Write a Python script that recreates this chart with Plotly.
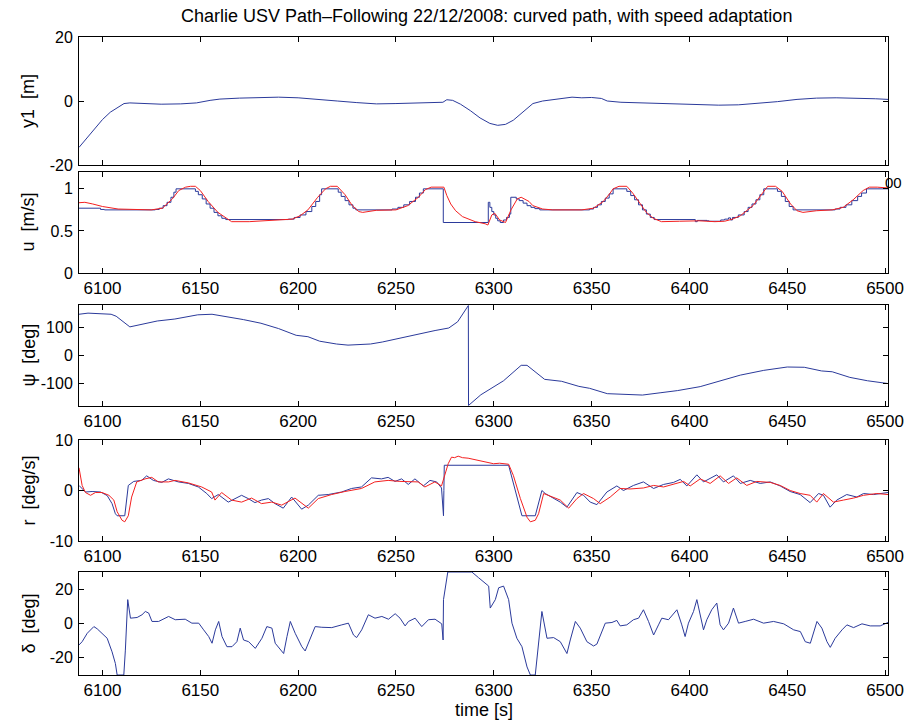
import plotly.graph_objects as go

# ---------------- data ----------------
y1_t = [6088, 6092, 6096, 6100, 6104, 6108, 6111, 6114, 6120, 6130, 6140, 6148, 6155, 6160, 6170,
        6180, 6190, 6200, 6210, 6220, 6230, 6240, 6250, 6260, 6270, 6274, 6276, 6279, 6283, 6288,
        6293, 6298, 6302, 6306, 6310, 6315, 6320, 6325, 6330, 6335, 6340, 6345, 6350, 6355, 6358,
        6365, 6375, 6385, 6395, 6405, 6415, 6425, 6435, 6445, 6455, 6465, 6475, 6485, 6495, 6501.5]
y1_v = [-14.5, -11.5, -8.5, -5.8, -3.5, -1.8, -0.8, -0.6, -0.8, -1.0, -0.9, -0.6, 0.2, 0.6, 0.9,
        1.1, 1.2, 1.0, 0.6, 0.0, -0.5, -0.9, -0.8, -0.6, -0.5, -0.4, 0.4, 0.2, -1.0, -3.0,
        -5.3, -7.0, -7.6, -7.3, -6.0, -3.5, -0.8, 0.0, 0.4, 0.9, 1.2, 1.0, 1.1, 0.8, 0.0,
        -0.4, -0.6, -0.8, -0.9, -1.1, -1.3, -1.2, -0.8, -0.2, 0.5, 0.9, 1.0, 0.9, 0.7, 0.5]

# desired speed (stepped reference)
ud_t = [6088, 6099, 6101, 6127, 6129, 6131, 6133, 6135, 6136.5, 6137.6, 6147.5, 6149, 6151, 6153,
        6155, 6157, 6159, 6161, 6163, 6195, 6198, 6201, 6204, 6207, 6209, 6211, 6212, 6220.5,
        6222, 6224, 6226, 6228, 6229.5, 6248, 6251, 6254, 6257, 6260, 6262, 6264, 6274.2,
        6297.2, 6298, 6299, 6300, 6301, 6302, 6303.3, 6305, 6306.5, 6308, 6308.7, 6311.5, 6313,
        6315, 6317, 6319, 6321, 6323.5, 6349, 6351, 6353, 6355, 6357, 6359, 6361, 6368, 6370,
        6372, 6374, 6376, 6378, 6380, 6382, 6403, 6404, 6409, 6410, 6416, 6418, 6420, 6421,
        6422, 6425, 6428, 6430, 6432, 6434, 6436, 6438, 6445, 6447, 6449, 6451, 6453, 6474.5,
        6477, 6480, 6483, 6486, 6488, 6490.5, 6501.5]
ud_v = [0.77, 0.755, 0.75, 0.755, 0.77, 0.80, 0.84, 0.90, 0.96, 1.0, 0.97, 0.93, 0.88, 0.82,
        0.77, 0.72, 0.68, 0.65, 0.635, 0.64, 0.66, 0.69, 0.73, 0.79, 0.85, 0.93, 1.0, 0.96,
        0.91, 0.86, 0.81, 0.77, 0.75, 0.76, 0.78, 0.81, 0.85, 0.90, 0.95, 1.0, 0.6,
        0.84, 0.78, 0.73, 0.69, 0.65, 0.62, 0.60, 0.63, 0.66, 0.70, 0.9, 0.88, 0.86,
        0.83, 0.80, 0.78, 0.765, 0.75, 0.76, 0.78, 0.81, 0.85, 0.89, 0.94, 1.0, 0.97, 0.92,
        0.87, 0.81, 0.75, 0.70, 0.66, 0.635, 0.61, 0.625, 0.62, 0.615, 0.63, 0.64, 0.655, 0.63,
        0.66, 0.69, 0.73, 0.78, 0.82, 0.87, 0.93, 1.0, 0.97, 0.91, 0.85, 0.79, 0.75, 0.76,
        0.78, 0.81, 0.86, 0.91, 0.95, 1.0, 1.0]

# measured speed
u_t = [6088, 6091, 6095, 6100, 6108, 6125, 6130.6, 6133, 6135.7, 6139, 6142.5, 6145, 6147.5,
       6150, 6154, 6159, 6164, 6166, 6175, 6190, 6197, 6201, 6205, 6210, 6214, 6216.5, 6220,
       6224, 6227.7, 6231, 6233, 6240, 6250, 6256, 6261.5, 6265, 6268, 6274.5, 6276, 6278,
       6280.5, 6284, 6290.5, 6295.6, 6297, 6299, 6300.5, 6303, 6306, 6308.8, 6312, 6314, 6318,
       6320, 6325, 6330, 6345, 6351, 6356, 6359.5, 6361, 6364, 6368, 6371, 6375, 6378, 6381.5,
       6385.7, 6395, 6405, 6413, 6418, 6422, 6426, 6432.5, 6437.6, 6440, 6444, 6447.4,
       6451.7, 6455, 6458, 6465, 6473, 6478.6, 6483.7, 6488.8, 6492, 6496, 6501.5]
u_v = [0.835, 0.84, 0.82, 0.79, 0.76, 0.75, 0.77, 0.82, 0.88, 0.98, 1.02, 1.03, 1.03,
       0.98, 0.85, 0.72, 0.64, 0.61, 0.61, 0.625, 0.64, 0.68, 0.75, 0.9, 1.0, 1.03, 1.03,
       0.93, 0.8, 0.73, 0.72, 0.745, 0.75, 0.80, 0.90, 0.99, 1.02, 1.02, 0.92, 0.82,
       0.74, 0.67, 0.61, 0.585, 0.57, 0.69, 0.71, 0.63, 0.60, 0.75, 0.88, 0.90, 0.85,
       0.80, 0.76, 0.75, 0.75, 0.77, 0.85, 0.95, 1.0, 1.03, 1.03, 0.95, 0.82, 0.72, 0.65,
       0.61, 0.615, 0.62, 0.61, 0.615, 0.64, 0.68, 0.80, 0.95, 1.03, 1.03, 0.97,
       0.82, 0.74, 0.72, 0.74, 0.75, 0.78, 0.87, 0.98, 1.02, 1.02, 1.01]

psi_t = [6088, 6092.6, 6104.4, 6107, 6114, 6119, 6128, 6137, 6148.7, 6156, 6163.5, 6172, 6181,
         6190, 6199, 6205, 6211, 6219.6, 6225.5, 6231, 6237, 6243, 6252, 6261, 6270, 6277,
         6281.5, 6287, 6287.1, 6293.4, 6305, 6314, 6317, 6326, 6334.7, 6343.5, 6349, 6358,
         6370, 6376, 6385, 6394, 6405.5, 6414, 6426, 6438, 6450, 6458.7, 6467.5, 6473, 6482,
         6491, 6501.5]
psi_v = [147, 151, 147, 140, 102, 109, 123, 130, 145, 147, 139, 128, 115,
         96, 72, 67, 51, 41, 37, 39, 41, 48, 62, 77, 89, 98,
         120, 178, -178, -140, -90, -35, -35, -85, -92, -110, -117, -136,
         -141, -141, -133, -125, -111, -95, -70, -53, -41, -42, -55, -58, -78,
         -90, -100]

# desired yaw rate
rd_t = [6088, 6091.3, 6094.7, 6099, 6102.4, 6104.9, 6106.6, 6107.5, 6111.4, 6113.2, 6116, 6120,
        6122.6, 6126, 6130.3, 6133.7, 6138.8, 6143.9, 6149, 6153.3, 6155.8, 6159.2, 6164.3,
        6169.4, 6171.1, 6174.5, 6177.9, 6181.3, 6184.8, 6188.2, 6192.4, 6196.7, 6201.8, 6205.2,
        6210.3, 6215.4, 6222.2, 6227.3, 6232.4, 6237.5, 6242.6, 6246, 6249.5, 6252.9, 6256.3,
        6259.7, 6264, 6267.4, 6270.8, 6273.3, 6274.3, 6274.5, 6274.7, 6307.6, 6314.4, 6321.2,
        6324.6, 6326.3, 6330.6, 6334, 6337.4, 6342.5, 6345.9, 6349.3, 6352.7, 6357.8, 6362.9,
        6366.3, 6371.4, 6376.5, 6381.7, 6386.8, 6391.9, 6395.3, 6398.7, 6403.8, 6407.2, 6414,
        6417.4, 6422.5, 6426, 6431.1, 6436.2, 6441.3, 6446.4, 6451.5, 6456.6, 6461.7, 6466,
        6468.5, 6471.9, 6475.3, 6480.4, 6485.6, 6489, 6494.1, 6501.5]
rd_v = [1.0, -0.3, -0.2, -0.3, -1.0, -2.6, -4.6, -5.0, -5.0, 1.0, 1.8, 2.0,
        2.9, 2.0, 1.6, 2.3, 1.7, 1.4, 0.7, -0.6, -1.6, -0.8, -2.3,
        -1.3, -0.95, -1.6, -2.4, -1.9, -1.6, -2.6, -3.5, -1.3, -3.7, -2.9,
        -0.95, -0.8, -0.3, 0.4, 0.7, 2.5, 2.3, 2.6, 1.8, 2.3, 1.2,
        2.3, 0.9, 2.0, 1.7, 0.5, -5.0, 0.0, 5.0, 5.0, -5.0, -5.0,
        0.0, -0.6, -1.5, -2.3, -3.3, -0.4, -0.95, -2.3, -2.8, -0.3, 0.9,
        0.0, 1.0, 1.7, 0.4, 1.2, 1.6, 2.2, 0.9, 3.1, 1.7, 3.1,
        1.7, 2.9, 1.4, 2.0, 1.4, 1.7, 0.9, -0.2, -0.8, -2.4, -0.6,
        -0.95, -3.3, -1.9, -0.8, -1.3, -0.6, -0.8, -0.4]

# measured yaw rate
r_t = [6088, 6089.6, 6091.3, 6093.9, 6096.4, 6099.8, 6103.3, 6105.8, 6107.5, 6110, 6111.4,
       6113.2, 6114.9, 6117.5, 6121.8, 6125.2, 6128.5, 6133.7, 6137.1, 6143.9, 6150.7, 6155.8,
       6157.5, 6160.9, 6166, 6171.1, 6176.2, 6181.3, 6186.5, 6191.6, 6198.4, 6205.2, 6210.3,
       6217.1, 6223.9, 6232.4, 6239.2, 6246, 6252, 6256.3, 6261.4, 6264.8, 6269.9, 6273.3,
       6275, 6276.7, 6278.4, 6280, 6281.8, 6284, 6286.9, 6289, 6292, 6295, 6299.9, 6303, 6307.6,
       6310, 6313.6, 6317, 6318.7, 6321.2, 6322.9, 6325.5, 6328.9, 6334, 6338.3, 6342.5,
       6345.9, 6351, 6354.4, 6359.5, 6364.6, 6369.7, 6376.5, 6381.7, 6386.8, 6391.9, 6397,
       6400.4, 6405.5, 6410.6, 6415.7, 6420, 6424.2, 6429.3, 6434.4, 6441.3, 6446.4, 6451.5,
       6456.6, 6461.7, 6465.1, 6468.5, 6473.6, 6478.7, 6483.9, 6489, 6495.8, 6501.5]
r_v = [4.5, 1.0, -0.4, -0.95, -0.4, -0.4, -0.95, -1.9, -4.2, -5.9, -6.2,
       -5.0, -1.3, 1.7, 2.3, 2.6, 1.7, 1.7, 2.0, 1.5, 0.7, -0.3,
       -1.9, -0.4, -1.9, -2.3, -1.5, -2.6, -2.3, -2.9, -1.5, -3.5, -1.6,
       -0.8, -0.2, 0.4, 1.7, 2.0, 1.8, 1.7, 1.7, 0.7, 1.7, 0.9,
       3.0, 5.3, 6.6, 6.5, 6.8, 6.5, 6.4, 6.2, 6.0, 5.7, 5.3, 5.4, 5.2,
       3.0, -1.6, -5.3, -6.2, -5.9, -4.6, -0.6, -1.1, -1.9, -3.5, -1.6,
       -0.6, -1.6, -2.6, -1.3, 0.4, 0.3, 0.5, 1.0, 0.7, 1.2, 1.8,
       0.9, 2.3, 1.4, 2.9, 1.4, 2.5, 1.0, 1.8, 1.6, 1.0, 0.0,
       -0.6, -0.95, -2.3, -0.6, -2.3, -1.9, -1.5, -0.95, -0.6, -0.8]

# rudder angle
delta_t = [6088, 6089.6, 6092.2, 6095.6, 6097.3, 6100.7, 6102.4, 6104.9, 6106.6, 6107.5, 6110.9,
           6111.7, 6112.9, 6114.3, 6117.7, 6120.2, 6121.9, 6123.6, 6125.3, 6128.7, 6133.8,
           6137.2, 6142.3, 6145.7, 6149.2, 6151.7, 6154.3, 6156, 6157.7, 6159.4, 6161.1, 6163.6,
           6166.2, 6168.7, 6170.4, 6172.1, 6174.7, 6178.1, 6179.8, 6181.5, 6184, 6186.6, 6188.3,
           6190.9, 6192.6, 6194.3, 6196, 6198.5, 6201.9, 6203.6, 6205.3, 6208.7, 6212.1, 6217.2,
           6222.3, 6225.7, 6228.3, 6229.9, 6232.5, 6235.9, 6239.3, 6242.8, 6246.2, 6249.6,
           6252.1, 6254.7, 6256.4, 6259.8, 6263.2, 6266.6, 6270, 6273.4, 6274.1, 6274.3, 6276.5,
           6288.8, 6292.2, 6295.7, 6297.4, 6298.2, 6300.8, 6302.5, 6305, 6307.6, 6309.3, 6311.8,
           6314.4, 6317, 6318.7, 6321.2, 6322.9, 6324.6, 6327.2, 6330.6, 6334, 6337.4, 6339.1,
           6341.7, 6344.2, 6347.6, 6351, 6352.7, 6357, 6360.4, 6362.9, 6364.6, 6368, 6371.4,
           6374, 6376.5, 6379.1, 6381.7, 6384.2, 6385.9, 6389.3, 6393.6, 6396.1, 6397.8, 6399.5,
           6402.1, 6403.8, 6405.5, 6407.2, 6408.9, 6411.4, 6414, 6415.7, 6417.4, 6420, 6422.5,
           6425.1, 6428.5, 6432.8, 6437.9, 6443, 6448.2, 6453.3, 6456.7, 6459.2, 6461.8, 6463.5,
           6465.2, 6467.7, 6470.3, 6472, 6474.5, 6478, 6480.5, 6483.9, 6488.2, 6492.4, 6497.5,
           6501.5]
delta_v = [-12.5, -10.6, -5.7, -1.8, -3.1, -6.7, -8.6, -16.5, -23.3, -30, -30,
           -15.5, 13.9, 3.1, 3.5, 5.1, 7.0, 6.1, 1.2, 1.2, 4.1,
           2.2, 2.5, 0.2, 0.2, -3.7, -7.6, -11.5, -3.7, 1.2, -7.6, -13.5,
           -13.5, -10.6, -2.7, -9.6, -10.6, -14.5, -11.5, -8.6, -1.8, -2.7, -11.5,
           -15.5, -17.5, -7.6, 1.2, -5.7, -13.5, -16.0, -11.5, -1.8, -2.2, -2.4,
           -0.8, 0.2, -6.7, -8.2, -3.7, 5.1, 3.1, 4.1, 2.5, 5.7,
           3.1, -1.4, 1.2, 3.1, -1.8, 2.2, 2.5, -0.2, -9.6, 13.9, 30,
           30, 26.7, 23.7, 21.8, 9.0, 13.9, 20.8, 21.8, 13.9, 0.2, -8.6,
           -13.5, -25.3, -30, -30, -9.6, 7.0, -8.6, -8.2, -10.6, -17.5, -9.6,
           1.2, -2.7, -10.6, -13.1, -12.0, 0.2, 0.6, 1.8, -1.4, -0.8, 2.2,
           3.1, 8.0, 1.2, -6.7, -0.8, 3.1, 2.2, 8.0, -0.8, -7.6, 0.2,
           7.0, 13.9, 4.1, -3.7, 2.2, 8.0, 11.9, -0.8, -3.7, 0.2, 9.0,
           0.2, 1.2, 2.5, 0.2, 1.2, -0.2, -3.7, -4.7, -10.6, -11.5, -4.7,
           1.2, -2.7, -10.6, -13.9, -8.6, -3.7, -0.8, -2.4, -0.2, -1.4, -1.4,
           0.6]

x_ticks = [6100, 6150, 6200, 6250, 6300, 6350, 6400, 6450, 6500]
y_ticks = [[-20, 0, 20], [0, 0.5, 1], [-100, 0, 100], [-10, 0, 10], [-20, 0, 20]]
y_ticktext = [["-20", "0", "20"], ["0", "0.5", "1"], ["-100", "0", "100"],
              ["-10", "0", "10"], ["-20", "0", "20"]]
y_ranges = [[-20, 20], [0, 1.2], [-180, 180], [-10, 10], [-30, 30]]
y_labels = ["y1  [m]", "u  [m/s]", "\u03c8  [deg]", "r  [deg/s]", "\u03b4  [deg]"]
title_text = "Charlie USV Path\u2013Following 22/12/2008: curved path, with speed adaptation"
x_label = "time [s]"
x_range = [6088, 6501.5]

# ---------------- figure ----------------
W, H = 905, 724
BLUE = "#2b3a9b"
RED = "#f42020"
FONT = "Liberation Sans, Arial, Helvetica, sans-serif"
XTICK_SIZE = 17
YTICK_SIZE = 16
LABEL_SIZE = 18

# panel pixel boxes (top, bottom)
panels_px = [(37, 165), (172, 273), (305, 406), (440, 541), (572, 675)]
x_px = (79, 888)

fig = go.Figure()

def add(ax, t, v, color, shape="linear"):
    fig.add_trace(go.Scatter(x=t, y=v, mode="lines", line=dict(color=color, width=1, shape=shape),
                             xaxis="x" if ax == 1 else f"x{ax}", yaxis="y" if ax == 1 else f"y{ax}",
                             showlegend=False, hoverinfo="skip"))

add(1, y1_t, y1_v, BLUE)
add(2, ud_t, ud_v, BLUE, "hv")
add(2, u_t, u_v, RED)
add(3, psi_t, psi_v, BLUE)
add(4, rd_t, rd_v, BLUE)
add(4, r_t, r_v, RED)
add(5, delta_t, delta_v, BLUE)

layout = dict(width=W, height=H, margin=dict(l=0, r=0, t=0, b=0),
              paper_bgcolor="white", plot_bgcolor="white", showlegend=False,
              font=dict(family=FONT, size=XTICK_SIZE, color="black"))

xd = [x_px[0] / W, x_px[1] / W]
for i, (top, bot) in enumerate(panels_px):
    k = i + 1
    xn = "xaxis" if k == 1 else f"xaxis{k}"
    yn = "yaxis" if k == 1 else f"yaxis{k}"
    layout[xn] = dict(domain=xd, range=x_range, anchor="y" if k == 1 else f"y{k}",
                      tickvals=x_ticks, ticks="inside", ticklen=5, tickcolor="black",
                      showline=True, linecolor="black", linewidth=1, mirror="allticks",
                      showgrid=False, zeroline=False, showticklabels=(k != 1),
                      tickfont=dict(size=XTICK_SIZE), automargin=False)
    layout[yn] = dict(domain=[1 - bot / H, 1 - top / H], range=y_ranges[i],
                      anchor="x" if k == 1 else f"x{k}",
                      tickvals=y_ticks[i], ticktext=y_ticktext[i], ticks="inside", ticklen=5,
                      tickcolor="black", showline=True, linecolor="black", linewidth=1,
                      mirror="allticks", showgrid=False, zeroline=False, ticklabelstandoff=2,
                      tickfont=dict(size=YTICK_SIZE), automargin=False)

annotations = [
    dict(text=title_text, x=486 / W, y=1 - 16 / H, xref="paper", yref="paper",
         showarrow=False, font=dict(size=LABEL_SIZE), xanchor="center", yanchor="middle"),
    dict(text=x_label, x=(x_px[0] + x_px[1]) / 2 / W, y=1 - 710 / H, xref="paper", yref="paper",
         showarrow=False, font=dict(size=LABEL_SIZE), xanchor="center", yanchor="middle"),
    dict(text="00", x=903 / W, y=1 - 182 / H, xref="paper", yref="paper",
         showarrow=False, font=dict(size=15), xanchor="right", yanchor="middle",
         borderpad=0),
]
for i, (top, bot) in enumerate(panels_px):
    annotations.append(dict(text=y_labels[i], x=28 / W, y=1 - (top + bot) / 2 / H,
                            xref="paper", yref="paper", showarrow=False, textangle=-90,
                            font=dict(size=LABEL_SIZE), xanchor="center", yanchor="middle"))
layout["annotations"] = annotations

fig.update_layout(**layout)
fig.write_html("out.html")
